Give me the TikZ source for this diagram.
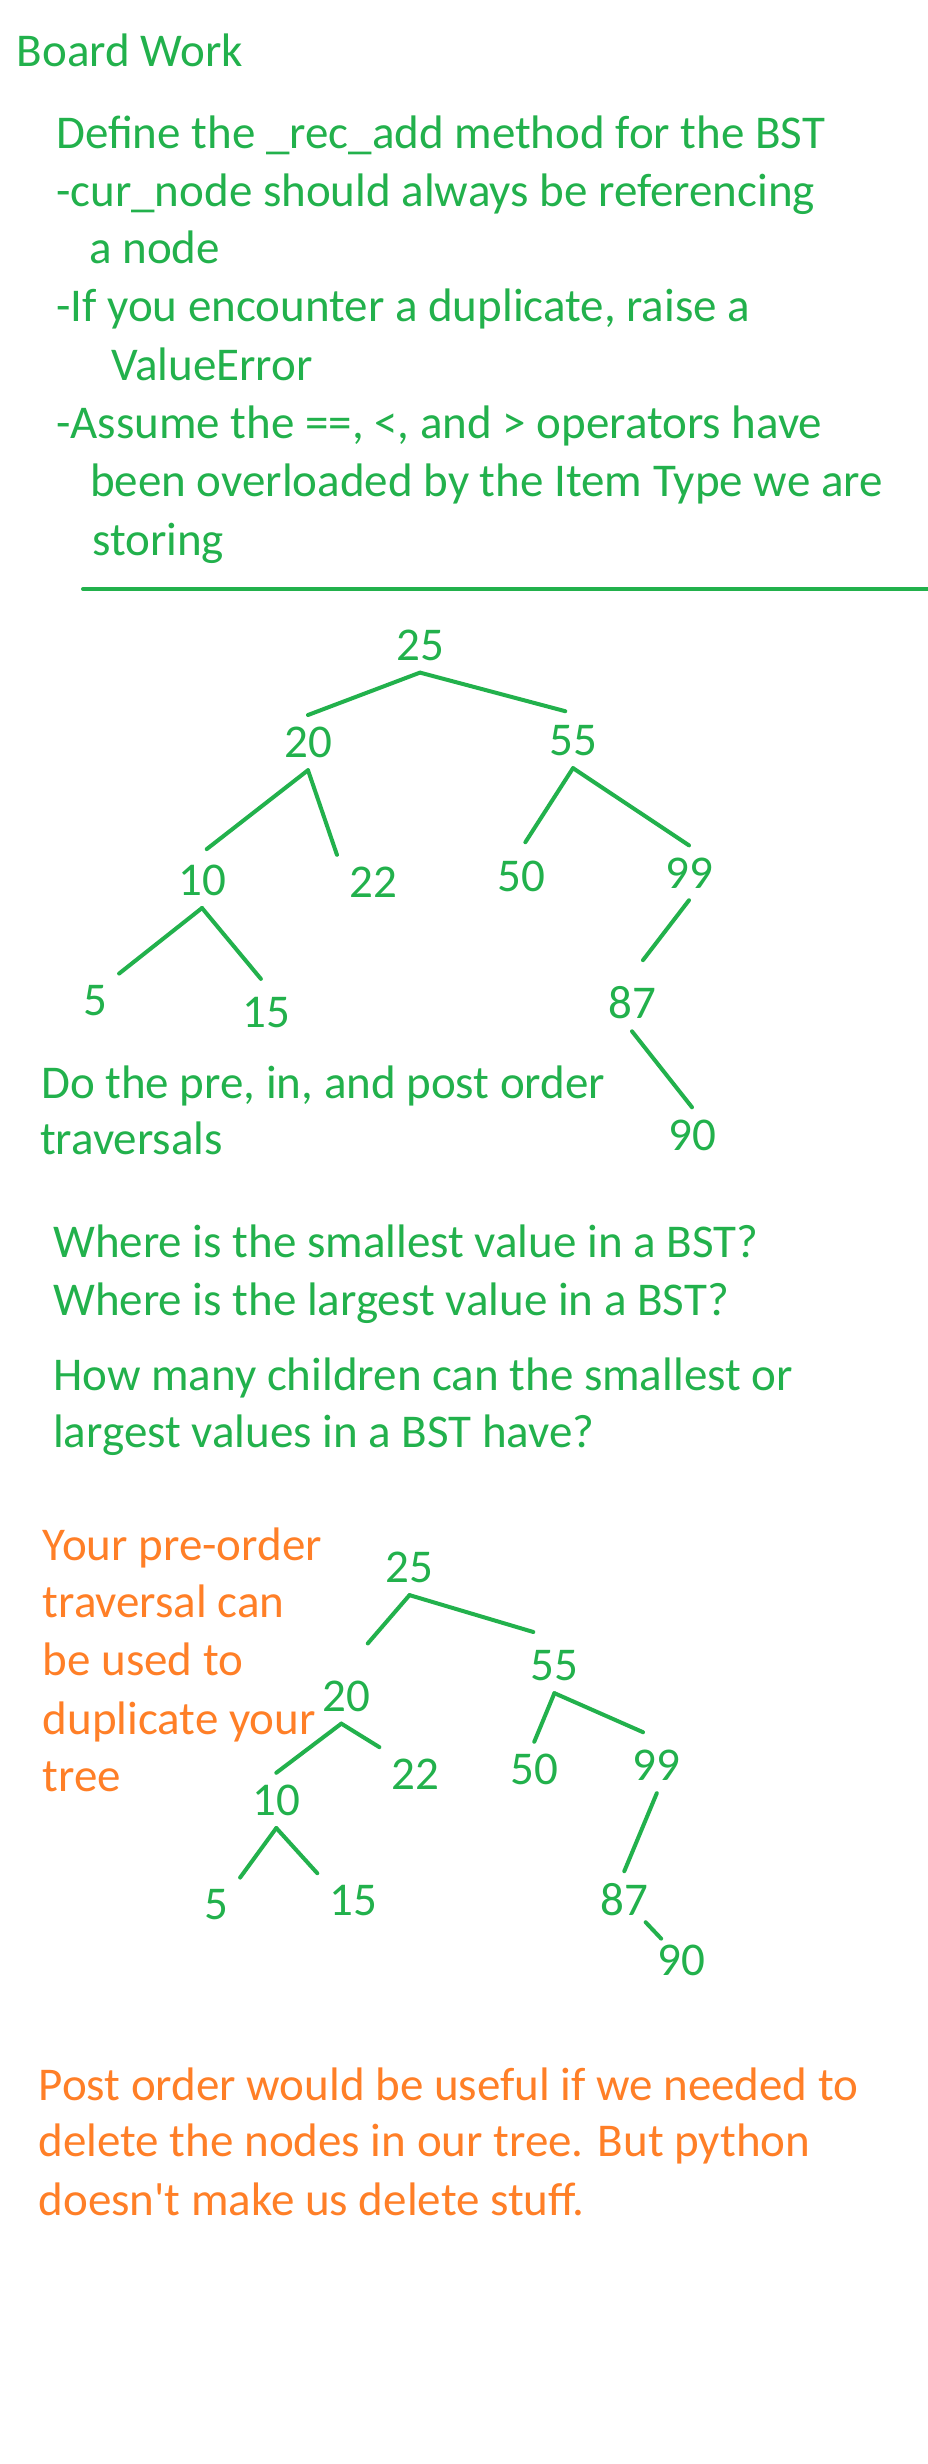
\documentclass[tikz,border=0pt]{standalone}
\usepackage{fontspec}
\setmainfont{Carlito}[Ligatures=TeXOff]
\usepackage{tikz}
\definecolor{G}{RGB}{34,177,76}
\definecolor{O}{RGB}{255,127,39}
\newcommand{\boardline}[5]{\node[#1] (#2) at (#3,#4) {#5};}
\newcommand{\bstkey}[4]{\node[bstkey] (#1) at (#2,#3) {#4};}
\tikzset{
  txt/.style={anchor=base west, inner sep=0pt, font=\fontsize{47}{57}\selectfont, text=G},
  orangetxt/.style={txt, text=O},
  bstkey/.style={inner sep=12pt, font=\fontsize{47}{57}\selectfont, text=G},
  branch/.style={draw=G, line width=4pt, line cap=round},
}

\begin{document}
\begin{tikzpicture}[x=1pt,y=-1pt]
\fill[white] (0,0) rectangle (928,2464);
\useasboundingbox (0,0) rectangle (928,2464);
% the task on the board
\boardline{txt}{title}{16.6}{67}{Board Work}
\boardline{txt}{t1}{56}{148.5}{Define the \_rec\_add method for the BST}
\boardline{txt}{t2}{56}{206.7}{-cur\_node should always be referencing}
\boardline{txt}{t3}{89}{264}{a node}
\boardline{txt}{t4}{56}{321.5}{-If you encounter a duplicate, raise a}
\boardline{txt}{t5}{111}{380.8}{ValueError}
\boardline{txt}{t6}{56}{438}{-Assume the ==, <, and > operators have}
\boardline{txt}{t7}{90}{496.7}{been overloaded by the Item Type we are}
\boardline{txt}{t8}{92}{555}{storing}
\draw[G, line width=4pt, line cap=round] (83,589) -- (928,589);
% first tree
\bstkey{a25}{420}{645}{25}
\bstkey{a20}{308}{742.6}{20}\bstkey{a55}{573}{740.7}{55}
\bstkey{a10}{202}{880.4}{10}\bstkey{a22}{373}{882.3}{22}
\bstkey{a50}{521}{876.6}{50}\bstkey{a99}{689}{872.8}{99}
\bstkey{a5}{95}{1001}{5}\bstkey{a15}{266}{1012.5}{15}
\bstkey{a87}{632}{1002.9}{87}\bstkey{a90}{692}{1134.9}{90}
\draw[branch] (a25.south) -- (a20.north);
\draw[branch,shorten >=8pt] (a25.south) -- (a55.north);
\draw[branch,shorten >=6pt] (a20.south) -- (a10.north);
\draw[branch] (a20.south) -- (a22.north west);
\draw[branch,shorten >=8pt] (a55.south) -- (a50.north);
\draw[branch] (a55.south) -- (a99.north);
\draw[branch] (a10.south) -- (a5.north east);
\draw[branch,shorten >=8pt] (a10.south) -- (a15.north);
\draw[branch,shorten >=18pt] (a99.south) -- (a87.north);
\draw[branch] (a87.south) -- (a90.north);
\boardline{txt}{q1}{41}{1098.6}{Do the pre, in, and post order}
\boardline{txt}{q2}{40}{1154}{traversals}
% questions
\boardline{txt}{q3}{53}{1257}{Where is the smallest value in a BST?}
\boardline{txt}{q4}{53}{1315}{Where is the largest value in a BST?}
\boardline{txt}{q5}{53}{1390}{How many children can the smallest or}
\boardline{txt}{q6}{53}{1447}{largest values in a BST have?}
% second tree
\boardline{orangetxt}{n1}{42.6}{1560}{Your pre-order}
\boardline{orangetxt}{n2}{42.6}{1617.5}{traversal can}
\boardline{orangetxt}{n3}{42.6}{1675.7}{be used to}
\boardline{orangetxt}{n4}{42.6}{1734.3}{duplicate your}
\boardline{orangetxt}{n5}{42.6}{1791.4}{tree}
\bstkey{b25}{409.5}{1567.5}{25}
\bstkey{b55}{554.4}{1665.7}{55}\bstkey{b20}{346.2}{1696}{20}
\bstkey{b22}{415.4}{1774.6}{22}\bstkey{b50}{534.3}{1769.3}{50}
\bstkey{b99}{656.8}{1765.7}{99}\bstkey{b10}{276.3}{1800.4}{10}
\bstkey{b5}{216}{1905}{5}\bstkey{b15}{353.3}{1900.7}{15}
\bstkey{b87}{624.3}{1899.6}{87}\bstkey{b90}{681.7}{1960.4}{90}
\draw[branch,shorten >=33pt] (b25.south) -- (b20.north);
\draw[branch,shorten >=22pt] (b25.south) -- (b55.north);
\draw[branch] (b55.south) -- (b50.north);
\draw[branch,shorten >=15pt] (b55.south) -- (b99.north);
\draw[branch] (b20.-100) -- (b10.north);
\draw[branch] (b20.-100) -- (b22.north west);
\draw[branch] (b10.south) -- (b5.north east);
\draw[branch] (b10.south) -- (b15.north west);
\draw[branch] (b99.south) -- (b87.north);
\draw[branch,shorten <=-8pt,shorten >=-8pt] (b87) -- (b90);
\boardline{orangetxt}{p1}{38.5}{2100}{Post order would be useful if we needed to}
\boardline{orangetxt}{p2}{38.5}{2156.7}{delete the nodes in our tree. But python}
\boardline{orangetxt}{p3}{38.5}{2215}{doesn't make us delete stuff.}
\end{tikzpicture}
\end{document}
